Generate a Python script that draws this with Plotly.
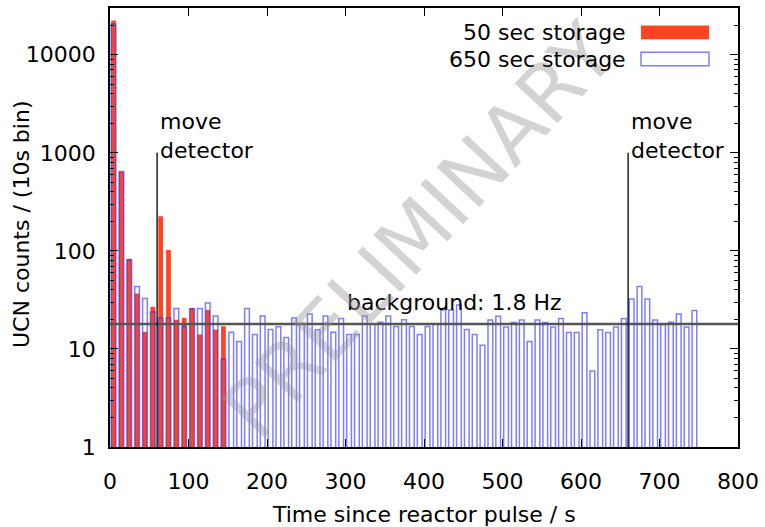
import plotly.graph_objects as go
import math

# ---- data ----
bin_start = list(range(0, 750, 10))  # 10 s bins, left edges
storage50 = [22400, 645, 83.2, 36.7, 15.0, 26.9, 225, 102, 19.9, 20.8,
             26.1, 14.0, 24.9, 15.8, 17.0]
storage650 = [20600, 645, 80.7, 43.3, 32.7, 23.8, 20.7, 20.7, 25.9, 16.9,
              25.7, 25.9, 29.4, 21.7, 7.9, 14.8, 11.9, 25.9, 14.0, 21.7,
              15.8, 16.8, 13.1, 20.7, 18.0, 22.7, 15.7, 21.7, 14.8, 20.5,
              14.0, 14.0, 21.7, 18.0, 18.7, 21.7, 16.9, 19.8, 16.9, 14.0,
              16.9, 18.0, 24.9, 24.9, 28.0, 15.8, 14.0, 10.9, 19.7, 21.5,
              16.7, 18.6, 19.7, 11.9, 19.7, 18.6, 16.7, 20.5, 14.7, 14.7,
              23.4, 5.95, 15.7, 14.7, 16.7, 20.5, 32.4, 43.3, 32.4, 19.7,
              17.8, 18.7, 22.7, 16.7, 24.7]
background = 18.0          # 1.8 Hz * 10 s
move_times = [60, 660]
move_top = 1000
x_ticks = [0, 100, 200, 300, 400, 500, 600, 700, 800]
y_ticks = [1, 10, 100, 1000, 10000]

FONT = "DejaVu Sans"
FS = 22
RED = "#FF4422"
BLUE = "rgba(40,40,255,0.6)"

fig = go.Figure()

centers50 = [b + 4.5 for b in bin_start[:len(storage50)]]
centers650 = [b + 4.5 for b in bin_start[:len(storage650)]]

fig.add_trace(go.Bar(x=centers50, y=storage50, width=6, name="50 sec storage",
                     marker=dict(color=RED, line=dict(width=0)), showlegend=False))
fig.add_trace(go.Bar(x=centers650, y=storage650, width=6, name="650 sec storage",
                     marker=dict(color="rgba(0,0,0,0)", line=dict(color=BLUE, width=1.5)),
                     showlegend=False))

# background line
fig.add_trace(go.Scatter(x=[0, 800], y=[background, background], mode="lines",
                         line=dict(color="#555555", width=2.5), showlegend=False,
                         hoverinfo="skip"))
# move detector lines
for t in move_times:
    fig.add_trace(go.Scatter(x=[t, t], y=[1, move_top], mode="lines",
                             line=dict(color="black", width=1.3), showlegend=False,
                             hoverinfo="skip"))

minor_vals = [m * 10 ** d for d in range(0, 5) for m in range(2, 10)]

fig.update_layout(
    width=765, height=527,
    margin=dict(l=110, r=27, t=6, b=80),
    paper_bgcolor="white", plot_bgcolor="white",
    barmode="overlay",
    font=dict(family=FONT, size=FS, color="black"),
    xaxis=dict(range=[0, 800], tickvals=x_ticks, ticks="inside", ticklen=8,
               tickwidth=1.2, tickcolor="black", showline=True, linecolor="black",
               linewidth=1.6, mirror="allticks", showgrid=False, zeroline=False,
               ticklabelstandoff=14, tickfont=dict(size=FS, family=FONT)),
    yaxis=dict(type="log", range=[0, math.log10(30000)], tickvals=y_ticks,
               ticktext=[str(v) for v in y_ticks], ticks="inside", ticklen=8,
               tickwidth=1.2, tickcolor="black", showline=True, linecolor="black",
               linewidth=1.6, mirror="allticks", showgrid=False, zeroline=False,
               ticklabelstandoff=8, tickfont=dict(size=FS, family=FONT),
               minor=dict(tickvals=minor_vals, ticks="inside", ticklen=4,
                          tickcolor="black", tickwidth=1, showgrid=False)),
)

# axis titles
fig.add_annotation(text="Time since reactor pulse / s", xref="paper", yref="paper",
                   x=(424 - 110) / 628, y=-(515 - 447) / 441, showarrow=False,
                   font=dict(size=FS, family=FONT), xanchor="center", yanchor="middle")
fig.add_annotation(text="UCN counts / (10s bin)", xref="paper", yref="paper",
                   x=-(110 - 21) / 628, y=(447 - 224) / 441, showarrow=False,
                   textangle=-90, font=dict(size=FS, family=FONT),
                   xanchor="center", yanchor="middle")

# move detector labels
for t in move_times:
    fig.add_annotation(text="move<br>detector", x=t, y=math.log10(move_top),
                       xref="x", yref="y", showarrow=False, xanchor="left",
                       yanchor="bottom", align="left", xshift=1, yshift=-12,
                       font=dict(size=FS, family=FONT))

# background label
fig.add_annotation(text="background: 1.8 Hz", x=299, y=math.log10(background),
                   xref="x", yref="y", showarrow=False, xanchor="left",
                   yanchor="bottom", yshift=7, font=dict(size=FS, family=FONT))

# watermark
fig.add_annotation(text="PRELIMINARY", xref="paper", yref="paper",
                   x=(420 - 110) / 628, y=(447 - 230) / 441, showarrow=False,
                   textangle=-47, font=dict(size=80, family=FONT,
                                            color="rgba(150,150,150,0.42)"),
                   xanchor="center", yanchor="middle")

# legend (gnuplot style: text then sample)
def px2paper(px, py):
    return (px - 110) / 628, (447 - py) / 441

for label, py, fill, line in [("50 sec storage", 30.5, RED, RED),
                              ("650 sec storage", 57.3, "white", BLUE)]:
    tx, ty = px2paper(628, py)
    fig.add_annotation(text=label, xref="paper", yref="paper", x=tx, y=ty,
                       showarrow=False, xanchor="right", yanchor="middle",
                       font=dict(size=FS, family=FONT))
    x0, y0 = px2paper(641, py - 6.8)
    x1, y1 = px2paper(709, py + 6.8)
    fig.add_shape(type="rect", xref="paper", yref="paper", x0=x0, x1=x1, y0=y1, y1=y0,
                  fillcolor=fill, line=dict(color=line, width=1.5 if fill == "white" else 0))

fig.write_html("out.html")
